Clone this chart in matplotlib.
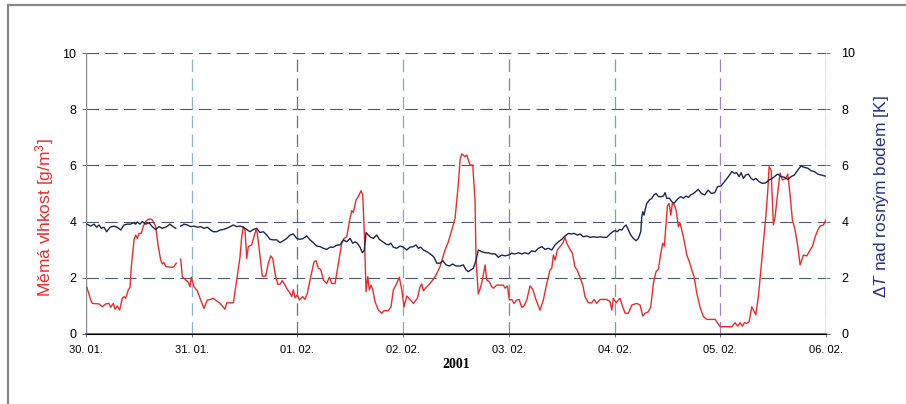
import numpy as np
import matplotlib
matplotlib.use("Agg")
import matplotlib.pyplot as plt
from matplotlib.patches import Rectangle

plt.rcParams['font.family'] = ['Liberation Sans', 'DejaVu Sans']
plt.rcParams['mathtext.fontset'] = 'custom'
plt.rcParams['mathtext.rm'] = 'Liberation Sans'
plt.rcParams['mathtext.it'] = 'Liberation Sans:italic'
plt.rcParams['lines.scale_dashes'] = False

# ---------------- data (time in hours from 30.01. 00:00) ----------------
day_ticks = [0, 24, 48, 72, 96, 120, 144, 168]
day_labels = ["30. 01.", "31. 01.", "01. 02.", "02. 02.", "03. 02.", "04. 02.", "05. 02.", "06. 02."]
y_ticks = [0, 2, 4, 6, 8, 10]

hum_t = [0.2, 1.07, 1.43, 2.95, 3.70, 4.47, 5.22, 5.61, 6.20, 6.58, 7.11, 7.65, 8.24, 8.63, 9.01, 9.60, 9.99,
         10.29, 10.90, 11.28, 11.65, 12.03, 12.56, 13.01, 13.56, 14.08, 14.69, 15.05, 15.44, 15.83, 16.35,
         16.96, 17.32, 17.71, 18.10, 19.60, 19.98, 20.50, 21.0,
         21.50, 21.87, 22.64, 23.16, 23.61, 23.91, 24.52, 25.27, 26.04, 26.79, 27.54, 28.31, 28.90, 30.43,
         31.56, 31.95, 33.45, 34.22, 34.97, 35.35, 35.72, 36.10, 36.49, 36.85, 37.62, 38.15, 38.60, 38.90,
         39.51, 40.03, 40.80, 41.39, 41.94, 42.39, 42.91, 43.53, 44.05, 44.57, 45.18, 45.71, 46.32, 46.71,
         47.07, 47.46, 47.98, 48.43, 49.20, 49.73, 50.25, 50.86, 51.77, 52.22, 52.75, 53.29, 53.88, 54.65,
         55.24, 55.79, 56.54, 57.30, 58.06, 58.58, 59.19, 59.79, 60.33, 60.69, 61.31, 61.83, 62.44, 62.83,
         63.19, 63.58, 63.96, 64.33, 64.71, 65.10, 65.62, 66.37, 67.14, 67.66, 68.64, 69.25, 69.78, 70.55,
         71.14, 71.68, 72.21, 72.82, 73.57, 74.32, 75.23, 75.84, 76.23, 76.59, 77.36, 78.11, 78.86, 79.47,
         80.38, 81.51, 82.26, 83.04, 83.79, 84.54, 84.92, 85.30, 86.05, 86.44, 86.80, 87.19, 87.80, 88.32,
         88.55, 89.07, 89.62, 90.07, 90.60, 90.98, 91.57, 92.12, 92.48, 93.25, 94.75, 95.14, 95.66, 96.11,
         96.66, 97.18, 97.79, 98.32, 98.93, 99.45, 100.06, 100.81, 101.43, 102.18, 103.08, 103.83, 104.61,
         105.36, 105.74, 106.11, 106.49, 107.01, 107.63, 108.24, 108.76, 109.15, 109.74, 110.44, 110.97,
         111.49, 112.10, 112.78, 113.30, 114.05, 114.82, 115.35, 115.96, 116.71, 118.23, 118.98, 119.37,
         119.73, 120.34, 120.86, 121.25, 121.77, 122.39, 123.14, 123.91, 125.04, 125.79, 126.40, 126.92,
         127.67, 128.22, 128.81, 129.42, 129.95, 130.49, 130.95, 131.31, 131.70, 131.99, 132.38, 132.76,
         133.12, 133.58, 133.97, 134.49, 134.87, 135.62, 136.40, 136.99, 137.53, 138.05, 138.67, 139.42,
         140.16, 140.93, 142.82, 143.96, 146.61, 147.36, 147.98, 148.50, 149.02, 149.47, 150.02, 150.54,
         151.15, 152.06, 152.65, 153.04, 153.79, 154.33, 154.79, 155.08, 155.54, 156.06, 156.44, 157.19,
         157.58, 158.10, 158.87, 159.33, 159.85, 160.37, 160.98, 161.60, 162.12, 162.87, 163.64, 164.39,
         164.91, 165.53, 166.14, 166.66, 167.41, 167.96]
hum_v = [1.66, 1.21, 1.09, 1.07, 0.97, 1.07, 1.09, 0.95, 1.09, 0.88, 1.00, 0.85, 1.27, 1.33, 1.27, 1.57, 1.66,
         2.40, 3.35, 3.52, 3.40, 3.58, 3.58, 3.84, 4.00, 4.08, 4.09, 4.06, 3.94, 3.82, 3.17,
         2.63, 2.49, 2.54, 2.40, 2.37, 2.40, 2.52, np.nan,
         2.66, 2.04, 1.92, 1.86, 1.68, 2.02, 1.68, 1.54, 1.21, 0.91, 1.21, 1.23, 1.27, 1.09,
         0.88, 1.11, 1.11, 1.92, 2.75, 3.46, 3.82, 3.70, 2.69, 3.11, 3.17, 3.46, 3.72, 3.58,
         2.75, 2.06, 2.06, 2.52, 2.78, 2.69, 2.16, 1.77, 1.77, 1.90, 1.74, 1.59, 1.45, 1.33,
         1.57, 1.29, 1.39, 1.21, 1.33, 1.23, 1.45, 1.92, 2.57, 2.61, 2.34, 2.30, 1.92, 1.80,
         2.02, 1.80, 1.80, 2.52, 3.23, 3.40, 3.46, 4.00, 4.39, 4.32, 4.77, 4.89, 5.10, 4.95,
         3.58, 1.51, 2.04, 1.57, 1.74, 1.57, 1.15, 0.85, 0.74, 0.83, 0.83, 0.97, 1.57, 1.80,
         2.02, 1.57, 0.97, 1.35, 1.23, 1.09, 1.27, 1.68, 1.78, 1.54, 1.68, 1.80, 1.95, 2.10,
         2.40, 2.99, 3.28, 3.70, 4.12, 5.36, 6.19, 6.41, 6.31, 6.37, 6.19, 6.01, 6.01, 4.77,
         2.63, 1.42, 1.68, 1.98, 2.46, 1.92, 1.86, 1.68, 1.63, 1.74, 1.74, 1.63, 1.71, 1.21,
         1.23, 1.09, 1.21, 1.23, 0.95, 1.00, 1.21, 1.71, 1.59, 1.21, 0.85, 1.21, 1.80,
         2.28, 2.34, 2.81, 2.63, 2.99, 3.11, 3.23, 3.44, 3.23, 3.05, 2.87, 2.40,
         2.28, 2.04, 1.74, 1.33, 1.11, 1.11, 1.23, 1.09, 1.23, 1.23, 1.15, 0.85,
         1.27, 1.11, 1.21, 1.27, 1.00, 0.74, 0.74, 1.03, 1.09, 1.03, 0.64, 0.74,
         0.79, 0.97, 1.80, 2.22, 2.30, 2.87, 3.23, 3.13, 3.94, 4.56, 4.65, 4.23,
         4.65, 4.59, 4.41, 3.82, 3.94, 3.46, 2.81, 2.57, 2.28, 2.04, 1.45, 0.95,
         0.62, 0.52, 0.52, 0.26, 0.26, 0.40, 0.28, 0.40, 0.28, 0.40, 0.38, 0.44,
         0.97, 0.68, 1.33, 1.98, 3.23, 4.17, 5.12, 5.95, 5.84, 3.88, 4.17, 5.24,
         5.72, 5.48, 5.54, 5.69, 4.95, 4.06, 3.70, 3.11, 2.46, 2.81, 2.78, 2.99,
         3.11, 3.46, 3.70, 3.84, 3.88, 4.06]

dt_t = [0.2, 1.07, 1.82, 2.43, 2.95, 3.47, 4.09, 4.70, 5.45, 6.36, 7.11, 7.88, 8.63, 9.38, 10.15, 10.74,
        11.28, 11.65, 12.26, 12.78, 13.56, 14.30, 15.05, 15.83, 16.58, 17.32, 18.32, 19.07, 19.60, 20.37, 21.0,
        21.50, 22.25, 23.00, 23.77, 24.52, 25.27, 26.04, 26.79, 27.54, 28.31, 28.90, 29.68, 30.43, 31.18,
        31.95, 32.70, 33.45, 34.22, 34.97, 35.72, 36.49, 37.24, 37.99, 38.76, 39.51, 40.26, 41.03, 41.78,
        42.53, 43.30, 44.05, 44.80, 45.57, 46.32, 47.07, 47.84, 48.59, 49.34, 50.11, 50.86, 51.61, 52.38,
        53.13, 53.88, 54.65, 55.40, 56.16, 56.93, 57.67, 58.42, 59.19, 59.94, 60.56, 61.08, 61.60, 62.21,
        62.74, 63.19, 63.58, 64.10, 64.64, 65.23, 66.01, 66.60, 67.37, 68.12, 68.64, 69.19, 69.78, 70.55,
        71.30, 72.05, 72.82, 73.57, 74.32, 74.93, 75.45, 76.00, 76.59, 77.36, 77.95, 78.49, 79.02, 79.63,
        80.38, 81.00, 81.74, 82.49, 83.26, 84.01, 84.92, 85.67, 86.28, 86.80, 87.35, 87.94, 88.55, 89.07,
        89.84, 90.60, 91.35, 92.12, 92.87, 93.62, 94.39, 95.14, 95.89, 96.66, 97.41, 98.16, 98.93, 99.68,
        100.43, 101.20, 101.95, 102.70, 103.47, 104.22, 104.97, 105.74, 106.49, 107.24, 108.01, 108.76,
        109.51, 110.06, 110.81, 111.56, 112.17, 112.92, 113.69, 114.44, 115.19, 115.96, 116.71, 117.46,
        118.23, 118.98, 119.59, 120.11, 120.64, 121.09, 121.64, 122.16, 122.61, 123.14, 123.68, 124.27,
        124.88, 125.40, 125.95, 126.17, 126.40, 126.70, 126.92, 127.31, 127.90, 128.45, 128.96, 129.42,
        129.95, 130.49, 131.08, 131.47, 131.85, 132.44, 132.99, 133.51, 133.97, 134.49, 135.03, 135.62,
        136.24, 136.76, 137.30, 137.89, 138.67, 138.96, 139.73, 140.48, 141.23, 142.00, 142.75, 143.36,
        144.18, 144.93, 145.84, 146.61, 147.20, 147.75, 148.27, 148.72, 149.25, 149.79, 150.38, 150.99,
        151.52, 152.06, 152.81, 153.56, 154.33, 155.08, 155.83, 156.44, 157.06, 157.81, 158.55, 159.33,
        160.08, 160.83, 161.60, 162.35, 163.10, 163.87, 164.62, 165.36, 166.14, 166.89, 167.80]
dt_v = [3.91, 3.84, 3.91, 3.80, 3.88, 3.76, 3.80, 3.64, 3.80, 3.84, 3.80, 3.70, 3.88, 3.91, 3.91, 3.96,
        3.91, 3.99, 3.91, 4.00, 3.91, 3.96, 3.82, 3.72, 3.82, 3.76, 3.82, 3.91, 3.84, 3.76, np.nan,
        3.84, 3.91, 3.88, 3.82, 3.84, 3.80, 3.82, 3.76, 3.80, 3.70, 3.64, 3.64, 3.70, 3.72,
        3.76, 3.82, 3.88, 3.82, 3.84, 3.80, 3.72, 3.64, 3.72, 3.76, 3.61, 3.64, 3.52, 3.37,
        3.35, 3.35, 3.25, 3.32, 3.40, 3.52, 3.56, 3.40, 3.37, 3.40, 3.49, 3.35, 3.25, 3.13,
        3.11, 3.05, 3.01, 3.09, 3.09, 3.16, 3.17, 3.35, 3.28, 3.40, 3.23, 3.28, 3.23, 3.09,
        2.89, 2.99, 3.61, 3.52, 3.44, 3.40, 3.52, 3.37, 3.28, 3.20, 3.17, 3.23, 3.09, 3.05,
        3.13, 3.09, 2.99, 3.09, 3.11, 3.17, 3.05, 3.09, 2.99, 2.93, 2.87, 2.81, 2.73, 2.52,
        2.52, 2.61, 2.46, 2.42, 2.49, 2.42, 2.42, 2.46, 2.28, 2.22, 2.28, 2.34, 2.63, 2.99,
        2.93, 2.89, 2.89, 2.85, 2.85, 2.73, 2.81, 2.78, 2.81, 2.87, 2.85, 2.89, 2.85, 2.89,
        2.85, 2.96, 2.93, 3.05, 3.11, 3.01, 3.05, 2.99, 3.17, 3.28, 3.37, 3.49,
        3.58, 3.56, 3.58, 3.52, 3.56, 3.46, 3.49, 3.44, 3.46, 3.44, 3.46, 3.44,
        3.44, 3.56, 3.64, 3.68, 3.64, 3.72, 3.70, 3.82, 3.88, 3.70, 3.52, 3.40,
        3.32, 3.40, 3.64, 4.17, 4.35, 4.23, 4.41, 4.65, 4.77, 4.83, 4.95, 5.00,
        4.89, 4.89, 4.91, 5.03, 4.83, 4.83, 4.71, 4.65, 4.74, 4.83, 4.89, 4.83,
        4.91, 4.86, 4.95, 5.00, 5.10, 5.15, 5.00, 4.95, 5.12, 5.00, 5.03, 5.24,
        5.27, 5.42, 5.60, 5.78, 5.72, 5.74, 5.60, 5.74, 5.54, 5.66, 5.69, 5.54,
        5.48, 5.54, 5.42, 5.36, 5.38, 5.48, 5.54, 5.62, 5.69, 5.60, 5.58, 5.50,
        5.60, 5.66, 5.84, 5.98, 5.93, 5.90, 5.81, 5.78, 5.69, 5.66, 5.62]

# ---------------- figure ----------------
W, H = 906, 404
fig = plt.figure(figsize=(W / 100, H / 100), dpi=100)
fig.patch.set_facecolor('white')

# outer scanned frame (top + left visible)
fig.patches.append(Rectangle((8 / W, -0.2), 1.2, (H - 5) / H + 0.2, transform=fig.transFigure,
                             fill=False, edgecolor='#8a8a8a', linewidth=1.6, clip_on=False))

ax = fig.add_axes([86 / W, 1 - 334 / H, (826 - 86) / W, (334 - 53) / H])
ax2 = ax.twinx()

red = '#ee2a2a'
navy = '#1d2750'
dash = (0, (9, 4.5))

for y in y_ticks[1:]:
    ax.axhline(y, color='#4f5868', lw=0.8, linestyle=dash, zorder=1)
vcols = ['#6c7480', '#8fb4cc', '#6c7480', '#86aabf', '#7f86a4', '#7aa68a', '#9c86b8', '#86b890']
for d, c in zip(day_ticks, vcols):
    if d == 0 or d == day_ticks[-1]:
        continue
    ax.axvline(d, color=c, lw=0.9, linestyle=dash, zorder=1)
ax.axvline(day_ticks[-1], color='#9a8cc0', lw=1.0, zorder=1)
ax.axvline(day_ticks[-1], color='#86b890', lw=0.9, linestyle=dash, zorder=1)

ax.plot(hum_t, hum_v, color=red, lw=1.0, zorder=3)
ax2.plot(dt_t, dt_v, color=navy, lw=1.0, zorder=3)

for a in (ax, ax2):
    a.set_xlim(0, 168)
    a.set_ylim(0, 10)
    a.set_yticks(y_ticks)
    for s in ('top', 'right'):
        a.spines[s].set_visible(False)
    a.spines['left'].set_visible(False)
ax.spines['bottom'].set_color('#555555')
ax.spines['bottom'].set_linewidth(1.2)
ax.axvline(0, color='#8a8a95', lw=1.0, zorder=2)

ax.set_xticks(day_ticks)
ax.set_xticklabels(day_labels, fontsize=8)
ax.tick_params(axis='x', length=2, color='#777777', pad=6)
ax.tick_params(axis='y', length=3, color='#777777', labelsize=9, pad=4)
ax2.tick_params(axis='y', length=3, color='#777777', labelsize=9, pad=8)
ax2.set_yticklabels([str(v) for v in y_ticks])
ax.set_yticklabels([str(v) for v in y_ticks])

ax.set_ylabel('Měmá vlhkost [g/m$^3$]', color=red, fontsize=12.5)
ax.yaxis.set_label_coords(-0.0405, 0.413)
ax2.set_ylabel(r'$\Delta\mathit{T}$ nad rosným bodem [K]', color='#2a3488', fontsize=12.5)
ax2.yaxis.set_label_coords(1.062, 0.49)

fig.text(456 / W, 1 - 365 / H, '2001', ha='center', va='center', fontsize=10, fontweight='bold',
         family='Liberation Serif')

fig.savefig('out.png', dpi=100)
